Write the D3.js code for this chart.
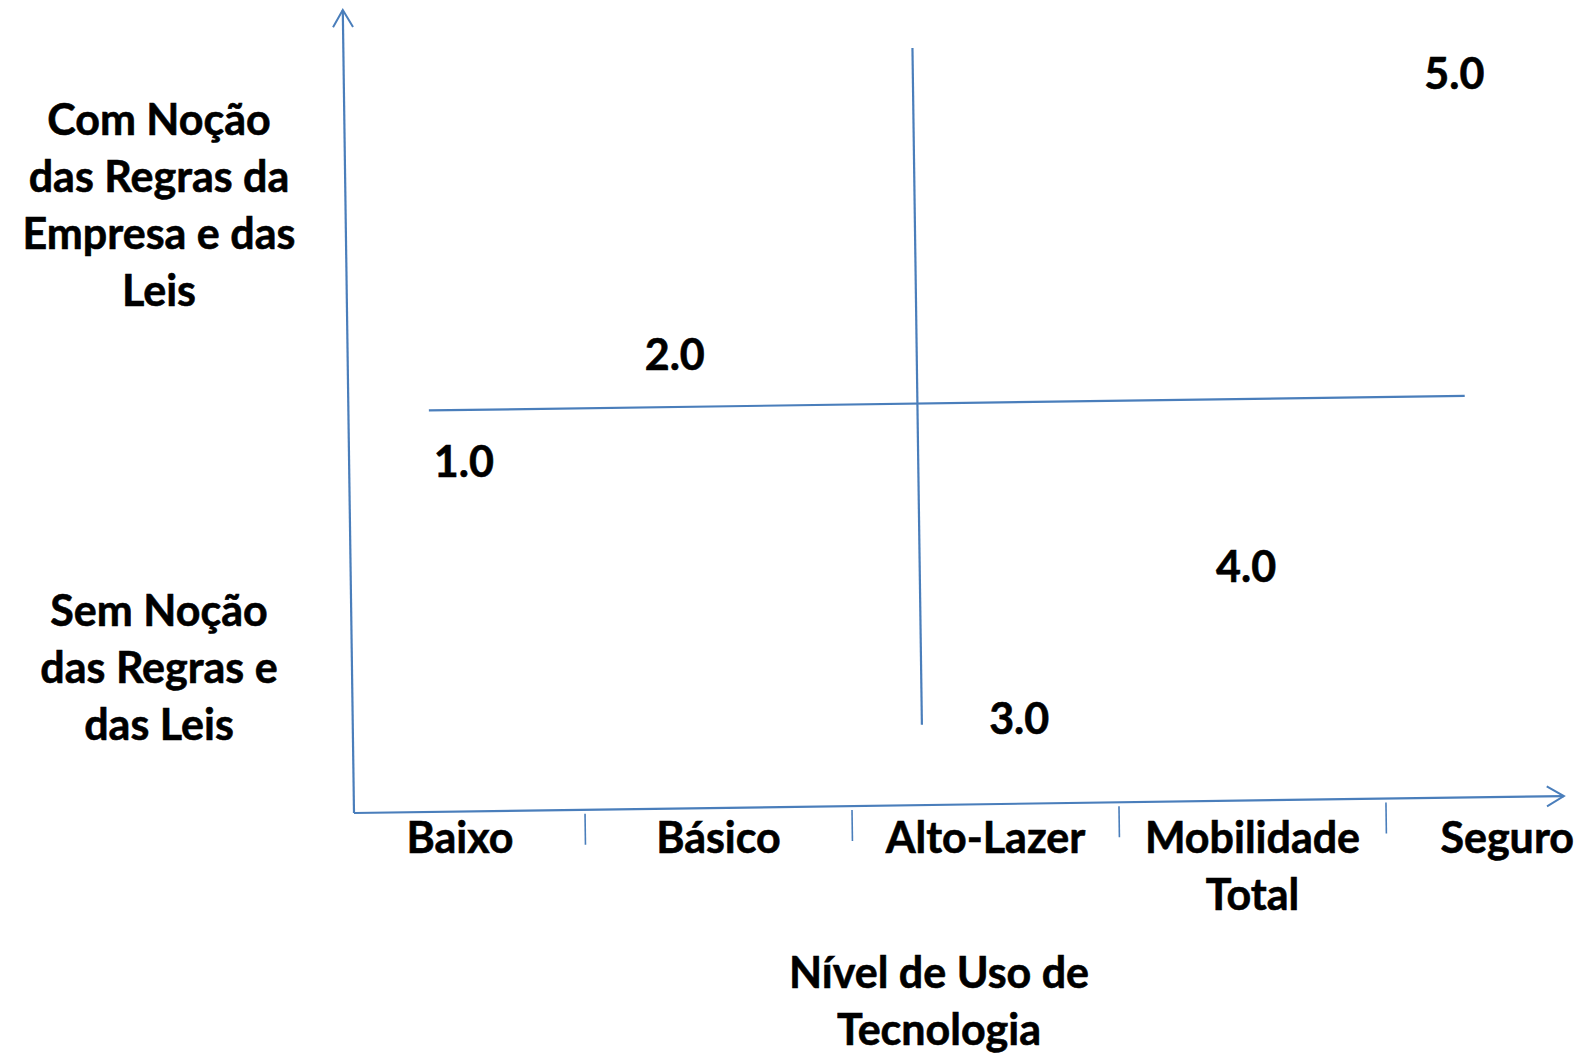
<!DOCTYPE html>
<html>
<head>
<meta charset="utf-8">
<script src="https://cdn.jsdelivr.net/npm/d3@7"></script>
<style>
  body { margin: 0; background: #fff; }
  text { font-family: Lato, "Open Sans", sans-serif; font-weight: bold; font-size: 43px; fill: #000; stroke: #000; stroke-width: 0.6px; }
</style>
</head>
<body>
<div id="chart"></div>
<script>
// categories on the technology axis
var categories = ["Baixo", "Básico", "Alto-Lazer", "Mobilidade Total", "Seguro"];
var yLabelsTop = ["Com Noção", "das Regras da", "Empresa e das", "Leis"];
var yLabelsBottom = ["Sem Noção", "das Regras e", "das Leis"];
var xTitle = ["Nível de Uso de", "Tecnologia"];

// maturity levels: position on tech axis (category units) and on rules axis (0..1)
var levelLabels = ["1.0", "2.0", "3.0", "4.0", "5.0"];
var levelTech = [0.52, 1.31, 2.60, 3.45, 4.23];
var levelRules = [0.437, 0.57, 0.117, 0.306, 0.92];

// quadrant dividers
var dividerTech = 2.24;
var dividerTechSpan = [0.41, 4.29];
var dividerRules = 0.5;
var dividerRulesSpan = [0.10, 0.943];

var svgWidth = 1584;
var svgHeight = 1053;
var lineColor = "#4a7ebb";
var lineGap = 57;

var svg = d3.select("#chart")
  .append("svg")
  .attr("width", svgWidth)
  .attr("height", svgHeight);

var xBand = d3.scaleBand()
  .domain(categories)
  .range([318, 1653]);

var xLinear = d3.scaleLinear()
  .domain([0, categories.length])
  .range([325, 1660]);

var yLinear = d3.scaleLinear()
  .domain([0, 1])
  .range([813, 10]);

var axisX0 = 354;
var axisXEnd = 1564;

svg.append("defs").append("marker")
  .attr("id", "arrow")
  .attr("markerUnits", "userSpaceOnUse")
  .attr("viewBox", "-20 -12 22 24")
  .attr("refX", 0)
  .attr("refY", 0)
  .attr("markerWidth", 22)
  .attr("markerHeight", 24)
  .attr("orient", "auto")
  .append("path")
  .attr("d", "M-17,-10L0,0L-17,10")
  .attr("fill", "none")
  .attr("stroke", lineColor)
  .attr("stroke-width", 2);

// the drawing is slightly tilted, like the hand-placed original
var plot = svg.append("g")
  .attr("transform", `rotate(-0.8, ${axisX0}, ${yLinear(0)})`)
  .attr("stroke", lineColor)
  .attr("stroke-width", 2.2)
  .attr("fill", "none");

plot.append("line")
  .attr("x1", axisX0)
  .attr("y1", yLinear(0))
  .attr("x2", axisX0)
  .attr("y2", yLinear(1))
  .attr("marker-end", "url(#arrow)");

plot.append("line")
  .attr("x1", axisX0)
  .attr("y1", yLinear(0))
  .attr("x2", axisXEnd)
  .attr("y2", yLinear(0))
  .attr("marker-end", "url(#arrow)");

// ticks between the categories
plot.selectAll(".tick")
  .data(categories.slice(1))
  .enter()
  .append("line")
  .attr("class", "tick")
  .attr("stroke-width", 1.6)
  .attr("x1", d => xBand(d))
  .attr("x2", d => xBand(d))
  .attr("y1", yLinear(0) + 4)
  .attr("y2", yLinear(0) + 35);

plot.append("line")
  .attr("x1", xLinear(dividerTechSpan[0]))
  .attr("x2", xLinear(dividerTechSpan[1]))
  .attr("y1", yLinear(dividerRules))
  .attr("y2", yLinear(dividerRules));

plot.append("line")
  .attr("x1", xLinear(dividerTech))
  .attr("x2", xLinear(dividerTech))
  .attr("y1", yLinear(dividerRulesSpan[1]))
  .attr("y2", yLinear(dividerRulesSpan[0]));

// category labels
var catLabels = svg.selectAll(".cat")
  .data(categories)
  .enter()
  .append("text")
  .attr("class", "cat")
  .attr("text-anchor", "middle")
  .attr("y", 853);

catLabels.selectAll("tspan")
  .data(d => d.split(" "))
  .enter()
  .append("tspan")
  .attr("dy", (d, i) => i === 0 ? 0 : lineGap)
  .text(d => d);

catLabels.each(function(d) {
  var w = d3.max(d3.select(this).selectAll("tspan").nodes(), n => n.getComputedTextLength());
  var cx = Math.max(Math.min(xBand(d) + xBand.bandwidth() / 2, svgWidth - w / 2 - 10), 460);
  d3.select(this).attr("x", cx);
  d3.select(this).selectAll("tspan").attr("x", cx);
});

// level labels
svg.selectAll(".level")
  .data(levelLabels)
  .enter()
  .append("text")
  .attr("class", "level")
  .attr("text-anchor", "middle")
  .attr("x", (d, i) => xLinear(levelTech[i]))
  .attr("y", (d, i) => yLinear(levelRules[i]) + 15)
  .text(d => d);

function multiLine(lines, cx, firstBaseline) {
  var t = svg.append("text")
    .attr("text-anchor", "middle")
    .attr("x", cx)
    .attr("y", firstBaseline);
  t.selectAll("tspan")
    .data(lines)
    .enter()
    .append("tspan")
    .attr("x", cx)
    .attr("dy", (d, i) => i === 0 ? 0 : lineGap)
    .text(d => d);
}

// rules-axis labels, centred on their half of the axis
multiLine(yLabelsTop, 159, yLinear(0.756) - lineGap * (yLabelsTop.length - 1) / 2 + 15);
multiLine(yLabelsBottom, 159, yLinear(0.18) - lineGap * (yLabelsBottom.length - 1) / 2 + 15);

// technology-axis title
multiLine(xTitle, 939, 988);
</script>
</body>
</html>
